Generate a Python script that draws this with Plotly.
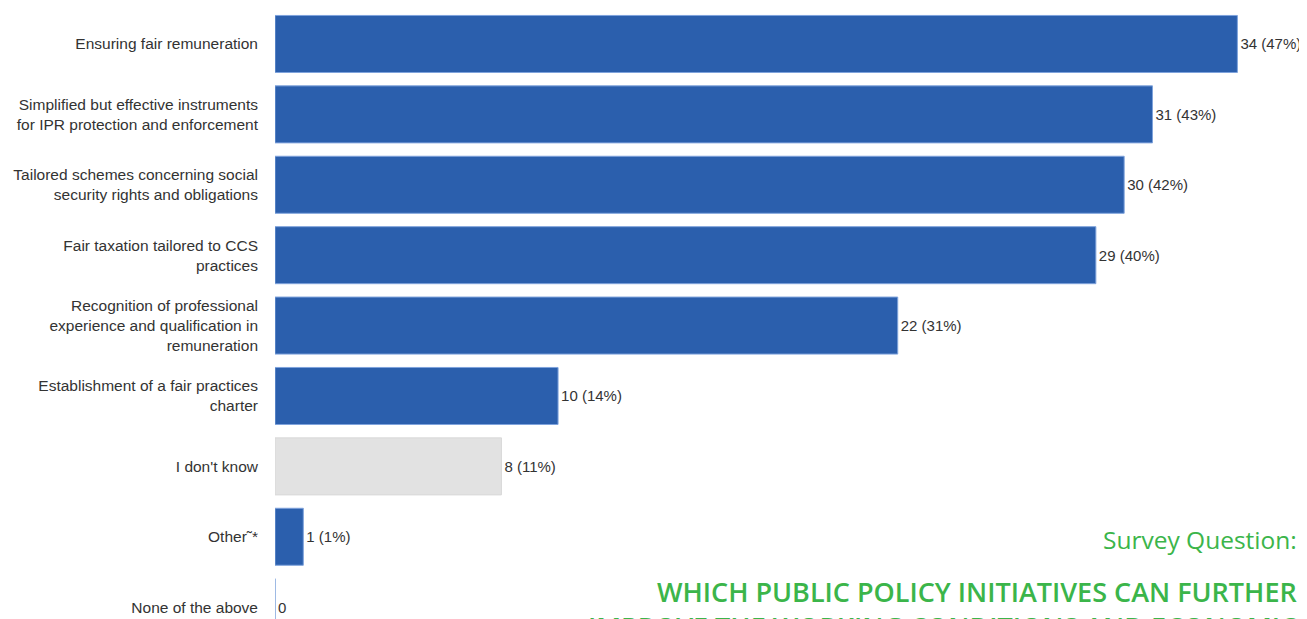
import plotly.graph_objects as go

categories = [
    "Ensuring fair remuneration",
    "Simplified but effective instruments<br>for IPR protection and enforcement",
    "Tailored schemes concerning social<br>security rights and obligations",
    "Fair taxation tailored to CCS<br>practices",
    "Recognition of professional<br>experience and qualification in<br>remuneration",
    "Establishment of a fair practices<br>charter",
    "I don't know",
    "Other˜*",
    "None of the above",
]
counts = [34, 31, 30, 29, 22, 10, 8, 1, 0]
percents = [47, 43, 42, 40, 31, 14, 11, 1, None]

BLUE = "#2b5fad"
GREY = "#e2e2e2"
GREEN = "#3bb54a"

labels = [f"{c} ({p}%)" if p is not None else f"{c}" for c, p in zip(counts, percents)]
colors = [GREY if c == "I don't know" else BLUE for c in categories]
line_colors = ["#d8d8d8" if c == "I don't know" else "#7fa3dc" for c in categories]

# the page body adds an 8px margin, so the figure is sized to fill the rest
OFF = 8
W, H = 1307 - OFF, 619 - OFF
ML, MR, MT, MB = 267, 12.5, 0, 0

fig = go.Figure(go.Bar(
    y=categories, x=counts, orientation="h",
    marker=dict(color=colors, line=dict(color=line_colors, width=1)),
    text=labels, textposition="outside", cliponaxis=False,
    textfont=dict(family="Liberation Sans, Arial", size=15, color="#333333"),
    hoverinfo="skip",
))

def px_x(p):
    return (p - OFF - ML) / (W - ML - MR)

def px_y(p):
    return 1 - (p - OFF - MT) / (H - MT - MB)

fig.update_layout(
    width=W, height=H,
    margin=dict(l=ML, r=MR, t=MT, b=MB),
    paper_bgcolor="white", plot_bgcolor="white",
    bargap=0.19,
    showlegend=False,
    xaxis=dict(range=[0, 36], visible=False),
    yaxis=dict(
        type="category", categoryorder="array", categoryarray=categories,
        range=[8.168, -0.511],
        showgrid=False, zeroline=False, showline=False, ticks="",
        ticklabelstandoff=16,
        tickfont=dict(family="Liberation Sans, Arial", size=15.5, color="#333333"),
    ),
    annotations=[
        dict(text="Survey Question:", xref="paper", yref="paper",
             x=px_x(1300), y=px_y(539), xanchor="right", yanchor="middle",
             showarrow=False,
             font=dict(family="Open Sans", size=24.5, color=GREEN, weight=400)),
        dict(text="WHICH PUBLIC POLICY INITIATIVES CAN FURTHER", xref="paper", yref="paper",
             x=px_x(1300), y=px_y(591), xanchor="right", yanchor="middle",
             showarrow=False,
             font=dict(family="Open Sans", size=27, color=GREEN, weight=600)),
        dict(text="IMPROVE THE WORKING CONDITIONS AND ECONOMIC", xref="paper", yref="paper",
             x=px_x(1300), y=px_y(626), xanchor="right", yanchor="middle",
             showarrow=False,
             font=dict(family="Open Sans", size=27, color=GREEN, weight=600)),
    ],
)

fig.write_html("out.html")
